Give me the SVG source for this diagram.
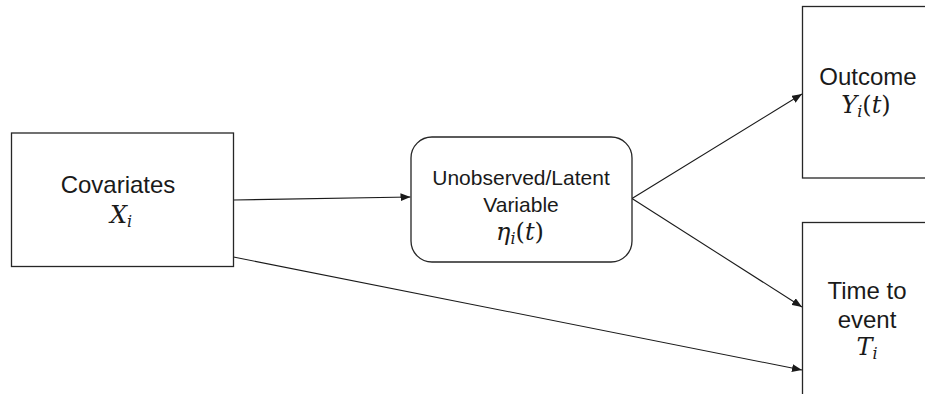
<svg xmlns="http://www.w3.org/2000/svg" width="925" height="394" viewBox="0 0 925 394">
  <style>
    .box { fill: #ffffff; stroke: #262626; stroke-width: 1.3; }
    .lbl { font-family: "Liberation Sans", Arial, sans-serif; font-size: 24px; fill: #1a1a1a; text-anchor: middle; }
    .lbl-sm { font-size: 21px; }
    .math { font-family: "DejaVu Serif", "Liberation Serif", serif; font-size: 24px; fill: #1a1a1a; text-anchor: middle; }
    .it { font-style: italic; }
    .sub { font-style: italic; font-size: 16px; }
    .edge { fill: none; stroke: #1a1a1a; stroke-width: 1.1; marker-end: url(#arrow); }
  </style>
  <defs>
    <marker id="arrow" markerUnits="userSpaceOnUse" viewBox="0 0 10 8" refX="10" refY="4" markerWidth="10" markerHeight="8" orient="auto">
      <path d="M0,0 L10,4 L0,8 Z" fill="#1a1a1a"/>
    </marker>
  </defs>

  <rect width="925" height="394" fill="#ffffff"/>

  <g id="connectors">
    <line class="edge" x1="233.5" y1="200" x2="410.5" y2="197"/>
    <line class="edge" x1="632" y1="198.5" x2="802" y2="94"/>
    <line class="edge" x1="632" y1="198.5" x2="802" y2="307"/>
    <line class="edge" x1="233.5" y1="257" x2="802" y2="370"/>
  </g>

  <g id="covariates">
    <rect class="box" x="11.5" y="133" width="222" height="133.5"/>
    <text class="lbl" x="118" y="193">Covariates</text>
    <text class="math" x="121" y="223"><tspan class="it">X</tspan><tspan class="sub" dy="4">i</tspan></text>
  </g>

  <g id="latent">
    <rect class="box" x="411" y="137" width="221" height="125" rx="21" ry="21"/>
    <text class="lbl lbl-sm" x="521" y="185">Unobserved/Latent</text>
    <text class="lbl lbl-sm" x="521" y="212">Variable</text>
    <text class="math" x="520" y="240"><tspan class="it">η</tspan><tspan class="sub" dy="4">i</tspan><tspan dy="-4">(</tspan><tspan class="it">t</tspan><tspan>)</tspan></text>
  </g>

  <g id="outcome">
    <rect class="box" x="802.5" y="6.5" width="200" height="171.5"/>
    <text class="lbl" x="868" y="85">Outcome</text>
    <text class="math" x="866" y="113"><tspan class="it">Y</tspan><tspan class="sub" dy="4">i</tspan><tspan dy="-4">(</tspan><tspan class="it">t</tspan><tspan>)</tspan></text>
  </g>

  <g id="time-to-event">
    <rect class="box" x="802.5" y="222.5" width="200" height="200"/>
    <text class="lbl" x="867" y="299">Time to</text>
    <text class="lbl" x="867" y="328">event</text>
    <text class="math" x="867" y="355"><tspan class="it">T</tspan><tspan class="sub" dy="4">i</tspan></text>
  </g>
</svg>
